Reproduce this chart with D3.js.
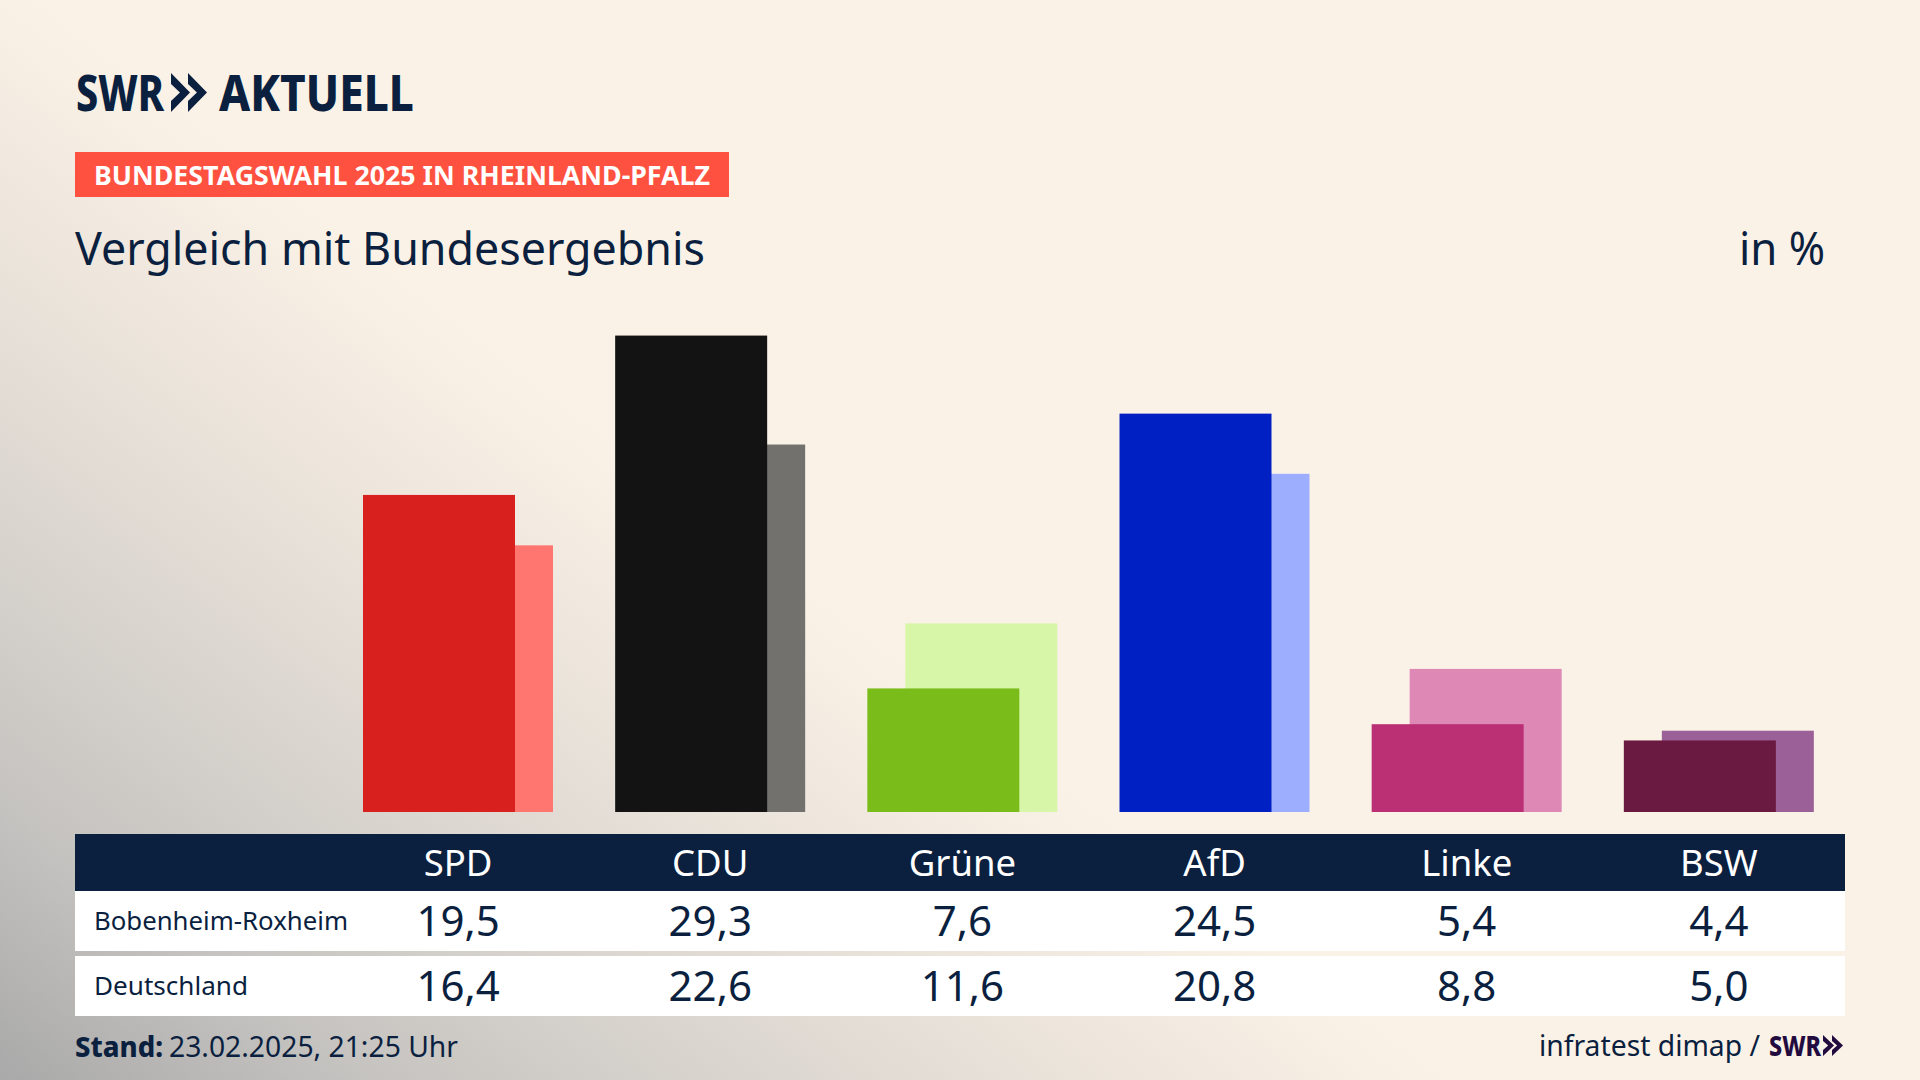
<!DOCTYPE html>
<html><head><meta charset="utf-8">
<script src="https://cdn.jsdelivr.net/npm/d3@7"></script>
<style>html,body{margin:0;padding:0;background:#fbf2e7;overflow:hidden}svg{display:block}text{font-family:"Noto Sans",sans-serif;fill:#0b1f3f}</style>
</head><body><svg id="c" width="1920" height="1080"></svg>
<script>
const parties=["SPD","CDU","Grüne","AfD","Linke","BSW"];
const localValues=[19.5,29.3,7.6,24.5,5.4,4.4];
const nationalValues=[16.4,22.6,11.6,20.8,8.8,5.0];
const frontColors=["#d8201e","#131313","#7abc1a","#0020c4","#bb2f74","#6a1940"];
const backColors=["#ff7570","#72716e","#d8f6a8","#9eaeff","#dd88b5","#9b6097"];
const rowLabels=["Bobenheim-Roxheim","Deutschland"];
const rowLabelWidths=[254,154];
const fmt=v=>v.toFixed(1).replace(".",",");

const svg=d3.select("#c");
const defs=svg.append("defs");
const g=defs.append("linearGradient").attr("id","bg").attr("gradientUnits","userSpaceOnUse")
 .attr("x1",0).attr("y1",1080).attr("x2",535).attr("y2",380);
[[0,"#a9a9a9"],[.25,"#c5c3c0"],[.5,"#d9d4ce"],[.75,"#ebe4db"],[1,"#fbf2e7"]].forEach(([o,c])=>g.append("stop").attr("offset",o).attr("stop-color",c));
svg.append("rect").attr("width",1920).attr("height",1080).attr("fill","url(#bg)");

const x=d3.scaleBand().domain(parties).range([332,1845]);
const y=d3.scaleLinear().domain([0,30]).range([812,812-30*16.26]);
const barW=152,inset=31,offset=38;
const navy="#0b1f3f",plum="#220c3f";

// header
const fit=(sel,len)=>sel.attr("textLength",len).attr("lengthAdjust","spacingAndGlyphs");
const chev=(x0,y0,h,w,fill)=>svg.append("path").attr("fill",fill)
 .attr("d",`M${x0} ${y0}L${x0+w} ${y0+h/2}L${x0} ${y0+h}V${y0+h*.72}L${x0+w*.47} ${y0+h/2}L${x0} ${y0+h*.28}Z`);
fit(svg.append("text").attr("x",76).attr("y",110.5).attr("font-size",49).attr("font-weight",800).text("SWR"),88);
chev(171,73,39,19,navy);chev(188,73,39,19,navy);
fit(svg.append("text").attr("x",219).attr("y",110.5).attr("font-size",49).attr("font-weight",800).text("AKTUELL"),195);
svg.append("rect").attr("x",75).attr("y",152).attr("width",654).attr("height",45).attr("fill","#ff513f");
fit(svg.append("text").attr("x",94).attr("y",185).attr("font-size",27.5).attr("font-weight",700).style("fill","#fff").text("BUNDESTAGSWAHL 2025 IN RHEINLAND-PFALZ"),616);
fit(svg.append("text").attr("x",75).attr("y",265).attr("font-size",45).text("Vergleich mit Bundesergebnis"),630);
fit(svg.append("text").attr("x",1739).attr("y",265).attr("font-size",45).text("in %"),86);

// bars
const gr=svg.append("g").selectAll("g").data(parties).join("g");
gr.append("rect").attr("x",d=>x(d)+inset+offset).attr("width",barW)
 .attr("y",(d,i)=>y(nationalValues[i])).attr("height",(d,i)=>y(0)-y(nationalValues[i])).attr("fill",(d,i)=>backColors[i]);
gr.append("rect").attr("x",d=>x(d)+inset).attr("width",barW)
 .attr("y",(d,i)=>y(localValues[i])).attr("height",(d,i)=>y(0)-y(localValues[i])).attr("fill",(d,i)=>frontColors[i]);

// table
svg.append("rect").attr("x",75).attr("y",834).attr("width",1770).attr("height",57).attr("fill",navy);
svg.append("rect").attr("x",75).attr("y",891).attr("width",1770).attr("height",60).attr("fill","#fff");
svg.append("rect").attr("x",75).attr("y",956).attr("width",1770).attr("height",60).attr("fill","#fff");
const cx=d=>x(d)+x.bandwidth()/2;
svg.append("g").selectAll("text").data(parties).join("text").attr("x",cx).attr("y",875.5).attr("text-anchor","middle")
 .attr("font-size",36.5).style("fill","#fff").text(d=>d);
[localValues,nationalValues].forEach((vals,r)=>{
 const by=[935.5,1000.5][r];
 fit(svg.append("text").attr("x",94).attr("y",[929.5,994.5][r]).attr("font-size",26).text(rowLabels[r]),rowLabelWidths[r]);
 svg.append("g").selectAll("text").data(parties).join("text").attr("x",cx).attr("y",by).attr("text-anchor","middle")
  .attr("font-size",42).text((d,i)=>fmt(vals[i]));
});

// footer
fit(svg.append("text").attr("x",75).attr("y",1057).attr("font-size",28.5).attr("font-weight",800).text("Stand:"),88);
fit(svg.append("text").attr("x",169).attr("y",1057).attr("font-size",28.5).text("23.02.2025, 21:25 Uhr"),289);
fit(svg.append("text").attr("x",1539).attr("y",1056).attr("font-size",28.5).text("infratest dimap /"),221);
fit(svg.append("text").attr("x",1769).attr("y",1055.5).attr("font-size",28).attr("font-weight",800).style("fill",plum).text("SWR"),52);
chev(1823,1035,21,11,plum);chev(1832,1035,21,11,plum);
</script></body></html>
